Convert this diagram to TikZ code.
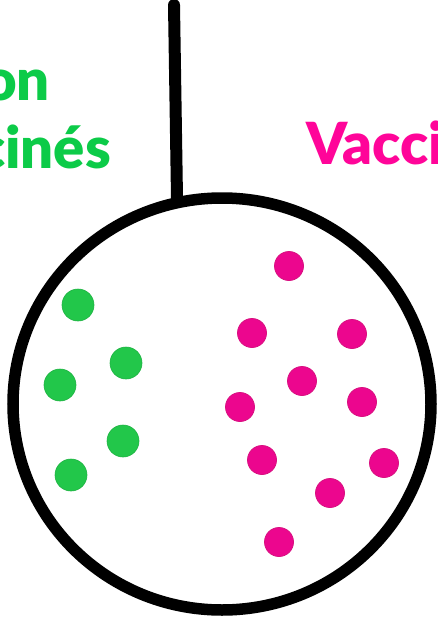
\documentclass[tikz,border=0pt]{standalone}
\usepackage{fontspec}
\setmainfont{Lato}[BoldFont={Lato Black}]
\definecolor{gtxt}{HTML}{0CCB48}
\definecolor{ptxt}{HTML}{FF0599}
\definecolor{gdotc}{HTML}{22C74A}
\definecolor{pdotc}{HTML}{EC068E}
\definecolor{pdotl}{HTML}{D81080}
\begin{document}
\begin{tikzpicture}[x=1pt,y=-1pt,
  gdot/.style={circle,fill=gdotc,draw=gdotc!90!black,line width=0.6pt,minimum size=32pt,inner sep=0pt},
  pdot/.style={circle,fill=pdotc,draw=pdotl,line width=0.8pt,minimum size=29pt,inner sep=0pt},
  lbl/.style={font=\fontsize{58}{58}\selectfont\bfseries,inner sep=0pt}]
\useasboundingbox (0,0) rectangle (438,619);
\clip (0,0) rectangle (438,619);
\fill[white] (0,0) rectangle (438,619);
% labels
\node[lbl,text=gtxt,anchor=base east] (non) at (50,100) {Non};
\node[lbl,text=gtxt,anchor=base east] (vac) at (111,168) {vaccinés};
\node[lbl,text=ptxt,anchor=base west] (vacc) at (306,164) {Vaccinés};
% string and circle
\coordinate (top) at (174,5);
\coordinate (joint) at (177,198);
\draw[line width=12pt,line cap=round] (top) -- (joint);
\draw[line width=11.5pt] (222,404) ellipse [x radius=209, y radius=206];
% green dots
\node[gdot] (g1) at (78,305) {};
\node[gdot] (g2) at (126,363) {};
\node[gdot] (g3) at (60,385) {};
\node[gdot] (g4) at (123,441) {};
\node[gdot] (g5) at (71,475) {};
% pink dots
\node[pdot] (p1) at (289,266) {};
\node[pdot] (p2) at (252,333) {};
\node[pdot] (p3) at (352,334) {};
\node[pdot] (p4) at (302,381) {};
\node[pdot] (p5) at (240,407) {};
\node[pdot] (p6) at (362,402) {};
\node[pdot] (p7) at (262,460) {};
\node[pdot] (p8) at (384,463) {};
\node[pdot] (p9) at (330,493) {};
\node[pdot] (p10) at (279,542) {};
\end{tikzpicture}
\end{document}
